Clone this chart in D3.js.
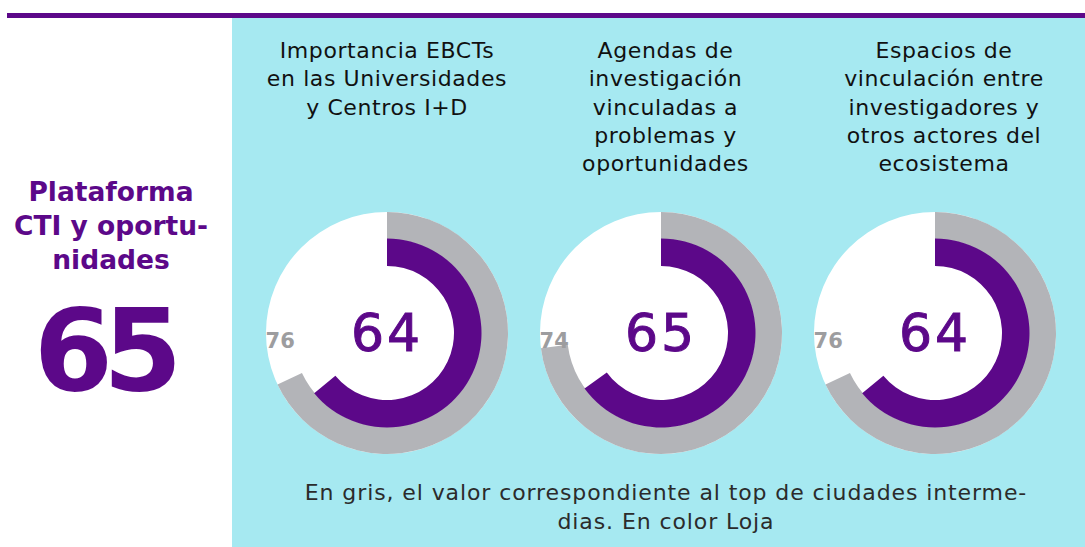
<!DOCTYPE html>
<html>
<head>
<meta charset="utf-8">
<script src="https://cdn.jsdelivr.net/npm/d3@7"></script>
<style>
  html, body { margin: 0; padding: 0; background: #fff; }
  svg { display: block; font-family: "DejaVu Sans", sans-serif; }
</style>
</head>
<body>
<div id="chart"></div>
<script>
// titulos de cada dona (una linea por elemento)
const titles = [
    ["Importancia EBCTs", "en las Universidades", "y Centros I+D"],
    ["Agendas de", "investigación", "vinculadas a", "problemas y", "oportunidades"],
    ["Espacios de", "vinculación entre", "investigadores y", "otros actores del", "ecosistema"]
];
const lojaValues = [64, 65, 64];        // en color (Loja)
const topValues = [76, 74, 76];         // en gris, etiqueta
const topArcs = [68, 73, 68];           // en gris, lo que se ve dibujado
const indexLabel = ["Plataforma", "CTI y oportu-", "nidades"];
const indexValue = 65;
const note = ["En gris, el valor correspondiente al top de ciudades interme-", "dias. En color Loja"];

const purple = "#5c0889";
const grey = "#b3b4b8";
const cyan = "#a6e9f1";

const width = 1085, height = 547;

const svg = d3.select("#chart")
    .append("svg")
    .attr("width", width)
    .attr("height", height);

// linea superior y panel
svg.append("rect").attr("x", 7).attr("y", 13).attr("width", width - 7).attr("height", 5).attr("fill", purple);
svg.append("rect").attr("x", 232).attr("y", 18).attr("width", width - 232).attr("height", height - 18).attr("fill", cyan);

// escalas
const idx = d3.range(titles.length);
const xScale = d3.scalePoint().domain(idx).range([387, 935]);
const titleX = d3.scalePoint().domain(idx).range([387, 944]);
const angle = d3.scaleLinear().domain([0, 100]).range([0, 2 * Math.PI]);
const cy = 333;
const R = 121;

const outerBg = d3.arc().innerRadius(0).outerRadius(R).startAngle(0).endAngle(2 * Math.PI);
const greyArc = d3.arc().innerRadius(94).outerRadius(R).startAngle(0);
const lojaArc = d3.arc().innerRadius(67).outerRadius(94.5).startAngle(0);

// titulos
titles.forEach((lines, i) => {
    svg.append("text")
        .attr("text-anchor", "middle")
        .attr("font-size", 22)
        .attr("letter-spacing", 0.6)
        .attr("fill", "#111")
        .selectAll("tspan")
        .data(lines)
        .enter()
        .append("tspan")
        .attr("x", titleX(i))
        .attr("y", (d, j) => 58 + j * 28.3)
        .text(d => d);
});

// donas
const donut = svg.selectAll(".donut")
    .data(idx)
    .enter()
    .append("g")
    .attr("class", "donut")
    .attr("transform", i => `translate(${xScale(i)},${cy})`);

donut.append("path").attr("d", outerBg()).attr("fill", "#fff");
donut.append("path").attr("d", i => greyArc({endAngle: angle(topArcs[i])})).attr("fill", grey);
donut.append("path").attr("d", i => lojaArc({endAngle: angle(lojaValues[i])})).attr("fill", purple);

donut.append("text")
    .attr("text-anchor", "middle")
    .attr("y", 18)
    .attr("font-size", 52)
    .attr("letter-spacing", 3)
    .attr("fill", purple)
    .attr("stroke", purple)
    .attr("stroke-width", 1)
    .text(i => lojaValues[i]);

// etiqueta gris en el lado izquierdo
const labelAngle = angle(74.2);
donut.append("text")
    .attr("text-anchor", "middle")
    .attr("x", 107 * Math.sin(labelAngle))
    .attr("y", -107 * Math.cos(labelAngle) + 10)
    .attr("font-size", 21)
    .attr("font-weight", "bold")
    .attr("fill", "#9d9d9f")
    .text(i => topValues[i]);

// indice a la izquierda
svg.append("text")
    .attr("text-anchor", "middle")
    .attr("font-size", 26.5)
    .attr("font-weight", "bold")
    .attr("fill", purple)
    .selectAll("tspan")
    .data(indexLabel)
    .enter()
    .append("tspan")
    .attr("x", 111)
    .attr("y", (d, j) => 201 + j * 34)
    .text(d => d);

svg.append("text")
    .attr("text-anchor", "middle")
    .attr("x", 108)
    .attr("y", 390)
    .attr("font-size", 114)
    .attr("font-weight", "bold")
    .attr("letter-spacing", -10)
    .attr("dx", -5)
    .attr("fill", purple)
    .text(indexValue);

// nota inferior
svg.append("text")
    .attr("text-anchor", "middle")
    .attr("font-size", 22)
    .attr("letter-spacing", 0.9)
    .attr("fill", "#2b2b2b")
    .selectAll("tspan")
    .data(note)
    .enter()
    .append("tspan")
    .attr("x", 666)
    .attr("y", (d, j) => 500 + j * 29)
    .text(d => d);
</script>
</body>
</html>
